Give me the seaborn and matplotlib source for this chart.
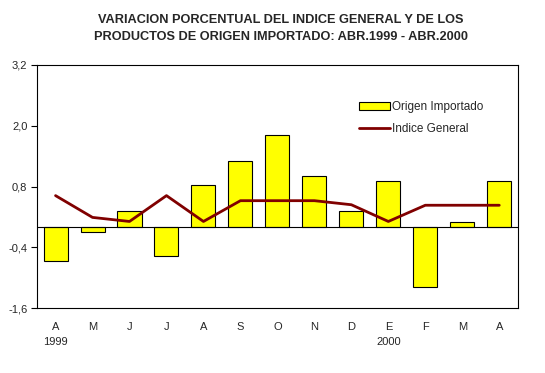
import numpy as np
import pandas as pd
import seaborn as sns
import matplotlib.pyplot as plt

meses = ["A", "M", "J", "J", "A", "S", "O", "N", "D", "E", "F", "M", "A"]
anios = {0: "1999", 9: "2000"}
origen_importado = [-0.67, -0.10, 0.32, -0.57, 0.82, 1.30, 1.82, 1.01, 0.32, 0.91, -1.18, 0.10, 0.91]
indice_general = [0.62, 0.19, 0.11, 0.62, 0.11, 0.52, 0.52, 0.52, 0.44, 0.11, 0.43, 0.43, 0.43]
yticks = [-1.6, -0.4, 0.8, 2.0, 3.2]

df = pd.DataFrame({"pos": range(len(meses)), "origen": origen_importado, "indice": indice_general})

sns.set_style("white")
plt.rcParams["font.family"] = ["Liberation Sans", "DejaVu Sans"]

fig = plt.figure(figsize=(5.45, 3.73), dpi=100)
ax = fig.add_axes([0.068, 0.174, 0.882, 0.652])

sns.barplot(data=df, x="pos", y="origen", color="#ffff00", saturation=1, edgecolor="black",
            linewidth=0.8, width=0.65, ax=ax, label="Origen Importado")
sns.lineplot(data=df, x="pos", y="indice", color="#800000", linewidth=2, ax=ax, label="Indice General")

ax.axhline(0, color="black", linewidth=0.8, zorder=1)
ax.set_xlim(-0.5, len(meses) - 0.5)
ax.set_ylim(-1.6, 3.2)
ax.set_yticks(yticks)
ax.set_yticklabels([f"{v:.1f}".replace(".", ",") for v in yticks], fontsize=8)
ax.set_xticks(range(len(meses)))
ax.set_xticklabels([m + ("\n" + anios[i] if i in anios else "") for i, m in enumerate(meses)],
                   fontsize=8, va="top", linespacing=1.6)
ax.tick_params(axis="x", length=0, pad=10)
ax.tick_params(axis="y", length=4, width=0.8, color="black", left=True, pad=3)
ax.set_xlabel("")
ax.set_ylabel("")
for s in ax.spines.values():
    s.set_color("black")
    s.set_linewidth(0.8)

handles, labels = ax.get_legend_handles_labels()
order = [labels.index("Origen Importado"), labels.index("Indice General")]
leg = ax.legend([handles[i] for i in order], [labels[i] for i in order],
                loc="upper left", bbox_to_anchor=(0.66, 0.87), frameon=False, fontsize=8.5,
                handlelength=2.6, handleheight=0.7, labelspacing=0.8, handletextpad=0.2, borderaxespad=0)

fig.suptitle("VARIACION PORCENTUAL DEL INDICE GENERAL Y DE LOS\nPRODUCTOS DE ORIGEN IMPORTADO: ABR.1999 - ABR.2000",
             x=0.515, y=0.962, fontsize=9.2, fontweight="bold", linespacing=1.5)

fig.savefig("out.png", dpi=100)
